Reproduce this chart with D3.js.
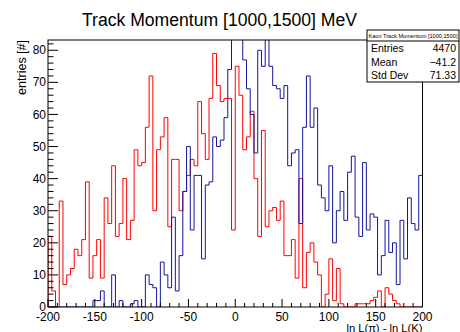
<!DOCTYPE html>
<html>
<head>
<meta charset="utf-8">
<script src="https://cdn.jsdelivr.net/npm/d3@7"></script>
<style>
  html, body { margin: 0; padding: 0; background: #fff; }
  svg { display: block; }
  text { font-family: "Liberation Sans", Arial, Helvetica, sans-serif; }
</style>
</head>
<body>
<svg id="chart" width="460" height="332"></svg>
<script>
// ---- data ----
const xDomain = [-200, 200];
const nBins = 100;
const yTop = 83.2;

const redCounts = [
  22, 5, 0, 33, 7, 10, 12, 18, 16, 21,
  39, 9, 16, 21, 9, 34, 26, 44, 22, 26,
  40, 21, 27, 49, 44, 45, 56, 72, 30, 49,
  53, 59, 25, 46, 46, 30, 36, 41, 46, 44,
  64, 54, 46, 65, 79, 69, 64, 65, 65, 24,
  75, 66, 49, 53, 61, 40, 22, 55, 25, 30,
  31, 27, 33, 16, 16, 21, 9, 40, 6, 17,
  20, 14, 10, 0, 4, 15, 2, 12, 1, 0,
  0, 0, 1, 1, 1, 1, 2, 3, 5, 0,
  6, 4, 2, 1, 0, 0, 0, 0, 0, 0
];
const blueCounts = [
  0, 0, 0, 0, 0, 0, 0, 0, 0, 0,
  0, 0, 2, 2, 5, 0, 0, 10, 0, 2,
  0, 0, 1, 2, 0, 0, 10, 7, 6, 0,
  14, 10, 6, 28, 5, 16, 36, 50, 24, 41,
  41, 15, 38, 39, 53, 50, 52, 59, 74, 90,
  96, 88, 77, 68, 60, 48, 80, 75, 87, 75,
  69, 68, 65, 69, 44, 48, 49, 26, 56, 72,
  56, 62, 38, 34, 30, 44, 20, 30, 36, 27,
  42, 47, 28, 22, 45, 24, 29, 28, 10, 16,
  27, 17, 20, 7, 27, 15, 34, 26, 24, 41
];
const xTickValues = [-200, -150, -100, -50, 0, 50, 100, 150, 200];
const yTickValues = [0, 10, 20, 30, 40, 50, 60, 70, 80];
const titleText = "Track Momentum [1000,1500] MeV";
const xTitle = "ln L(\u03c0) - ln L(K)";
const yTitle = "entries [#]";
const statsTitle = "Kaon Track Momentum [1000,1500]";
const statsRows = [["Entries", "4470"], ["Mean", "\u221241.2"], ["Std Dev", "71.33"]];

// ---- layout ----
const L = 48, R = 422.5, T = 40, B = 307;
const svg = d3.select("#chart");
const x = d3.scaleLinear().domain(xDomain).range([L, R]);
const y = d3.scaleLinear().domain([0, yTop]).range([B, T]);
const binW = (xDomain[1] - xDomain[0]) / nBins;

svg.append("defs").append("clipPath").attr("id", "plotclip")
  .append("rect").attr("x", L).attr("y", T).attr("width", R - L).attr("height", B - T);

function stepPoints(vals) {
  const pts = [[x(xDomain[0]), y(0)]];
  vals.forEach((v, i) => {
    const lo = xDomain[0] + i * binW, hi = lo + binW;
    pts.push([x(lo), y(v)], [x(hi), y(v)]);
  });
  pts.push([x(xDomain[1]), y(0)]);
  return pts;
}
const line = d3.line();
const g = svg.append("g").attr("clip-path", "url(#plotclip)");
g.append("path").attr("d", line(stepPoints(redCounts)))
  .attr("fill", "none").attr("stroke", "#ff0000").attr("stroke-width", 1);
g.append("path").attr("d", line(stepPoints(blueCounts)))
  .attr("fill", "none").attr("stroke", "#1414a0").attr("stroke-width", 1);

// frame
svg.append("rect").attr("x", L).attr("y", T).attr("width", R - L).attr("height", B - T)
  .attr("fill", "none").attr("stroke", "#000").attr("stroke-width", 1);

// y ticks (inward)
const yMinor = d3.range(0, yTop, 2);
svg.append("g").selectAll("line").data(yMinor).join("line")
  .attr("x1", L).attr("x2", d => L + (d % 10 === 0 ? 10 : 5.5))
  .attr("y1", d => y(d)).attr("y2", d => y(d))
  .attr("stroke", "#000").attr("stroke-width", 1);
svg.append("g").selectAll("text").data(yTickValues).join("text")
  .attr("x", 46).attr("y", d => y(d)).attr("dy", "0.34em")
  .attr("text-anchor", "end").attr("font-size", 12).text(d => d);

// x ticks (inward)
const xMinor = d3.range(-200, 201, 10);
svg.append("g").selectAll("line").data(xMinor).join("line")
  .attr("x1", d => x(d)).attr("x2", d => x(d))
  .attr("y1", B).attr("y2", d => B - (d % 50 === 0 ? 8 : 4))
  .attr("stroke", "#000").attr("stroke-width", 1);
svg.append("g").selectAll("text").data(xTickValues).join("text")
  .attr("x", d => x(d)).attr("y", 320.5)
  .attr("text-anchor", "middle").attr("font-size", 12)
  .text(d => (d < 0 ? "-" + Math.abs(d) : d));

// titles
svg.append("text").attr("x", 219.5).attr("y", 26).attr("text-anchor", "middle")
  .attr("font-size", 17.6).text(titleText);
svg.append("text").attr("x", R).attr("y", 331.5).attr("text-anchor", "end")
  .attr("font-size", 11.2).text(xTitle);
svg.append("text").attr("transform", "translate(25.5,40) rotate(-90)")
  .attr("text-anchor", "end").attr("font-size", 12.5).text(yTitle);

// stats box
const sb = { x0: 367, x1: 459, y0: 30, y1: 82, hy: 41 };
svg.append("rect").attr("x", sb.x0).attr("y", sb.y0).attr("width", sb.x1 - sb.x0)
  .attr("height", sb.y1 - sb.y0).attr("fill", "#fff").attr("stroke", "#000").attr("stroke-width", 1);
svg.append("line").attr("x1", sb.x0).attr("x2", sb.x1).attr("y1", sb.hy).attr("y2", sb.hy)
  .attr("stroke", "#000").attr("stroke-width", 1);
svg.append("text").attr("x", (sb.x0 + sb.x1) / 2).attr("y", 37.5).attr("text-anchor", "middle")
  .attr("font-size", 5.6).text(statsTitle);
const rowY = [52, 65.5, 78.5];
statsRows.forEach((r, i) => {
  svg.append("text").attr("x", sb.x0 + 4).attr("y", rowY[i]).attr("font-size", 10.5).text(r[0]);
  svg.append("text").attr("x", sb.x1 - 3).attr("y", rowY[i]).attr("text-anchor", "end")
    .attr("font-size", 10.5).text(r[1]);
});
</script>
</body>
</html>
